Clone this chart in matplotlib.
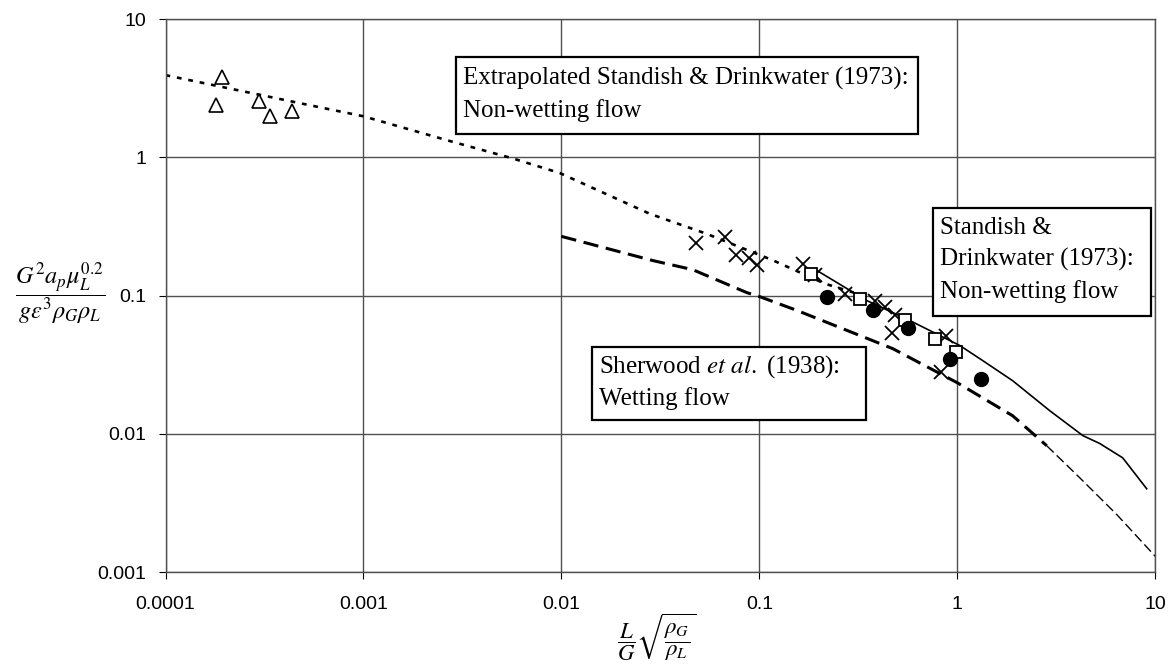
import numpy as np
import matplotlib
matplotlib.use("Agg")
import matplotlib.pyplot as plt
from matplotlib.patches import Rectangle
from matplotlib.ticker import FixedLocator, FixedFormatter, NullLocator

plt.rcParams['font.family'] = ['Liberation Sans', 'DejaVu Sans']
plt.rcParams['mathtext.fontset'] = 'stix'

# data points
tri_x = [0.000193, 0.00018, 0.000297, 0.000337, 0.000435]
tri_y = [3.8, 2.38, 2.55, 1.98, 2.15]

cross_x = [0.0478, 0.067, 0.076, 0.0885, 0.097, 0.166, 0.19, 0.27, 0.383, 0.43, 0.483, 0.467, 0.875, 0.826]
cross_y = [0.238, 0.263, 0.195, 0.188, 0.165, 0.168, 0.14, 0.103, 0.092, 0.082, 0.072, 0.054, 0.051, 0.028]

sq_x = [0.182, 0.322, 0.543, 0.769, 0.99]
sq_y = [0.142, 0.095, 0.066, 0.0488, 0.039]

circ_x = [0.219, 0.374, 0.562, 0.917, 1.315]
circ_y = [0.097, 0.078, 0.0586, 0.0349, 0.0251]

# correlations
extrap_x = [0.0001, 0.00048, 0.001, 0.00274, 0.0057, 0.0098, 0.028, 0.054, 0.117, 0.214, 0.3]
extrap_y = [3.93, 2.46, 1.98, 1.31, 0.98, 0.77, 0.39, 0.28, 0.18, 0.122, 0.105]

stand_x = [0.195, 0.349, 0.575, 1.03, 1.346, 1.905, 2.93, 4.31, 5.25, 6.85, 9.06]
stand_y = [0.152, 0.092, 0.066, 0.0435, 0.0338, 0.0242, 0.0147, 0.0097, 0.0085, 0.0067, 0.004]

sher_x = [0.01, 0.029, 0.046, 0.0865, 0.1, 0.155, 0.472, 1.0, 1.905, 2.83]
sher_y = [0.268, 0.179, 0.154, 0.105, 0.0984, 0.078, 0.0413, 0.0234, 0.0135, 0.0082]

tail_x = [2.83, 4.16, 6.4, 10.0]
tail_y = [0.0082, 0.0048, 0.0026, 0.0013]

ticks_x = [0.0001, 0.001, 0.01, 0.1, 1, 10]
ticks_y = [0.001, 0.01, 0.1, 1, 10]

W, H = 1174, 667
fig = plt.figure(figsize=(W / 100, H / 100), dpi=100)
ax = fig.add_axes([0.141, 0.1424, 0.843, 0.829])
ax.set_xscale('log')
ax.set_yscale('log')
ax.set_xlim(0.0001, 10)
ax.set_ylim(0.001, 10)

ax.xaxis.set_major_locator(FixedLocator(ticks_x))
ax.xaxis.set_major_formatter(FixedFormatter(['0.0001', '0.001', '0.01', '0.1', '1', '10']))
ax.yaxis.set_major_locator(FixedLocator(ticks_y))
ax.yaxis.set_major_formatter(FixedFormatter(['0.001', '0.01', '0.1', '1', '10']))
ax.xaxis.set_minor_locator(NullLocator())
ax.yaxis.set_minor_locator(NullLocator())
ax.tick_params(axis='x', length=5, pad=12, labelsize=14, direction='out')
ax.tick_params(axis='y', length=5, pad=9, labelsize=14, direction='out')
ax.grid(True, color='#505050', linewidth=1.0)
for s in ax.spines.values():
    s.set_color('#505050')
    s.set_linewidth(1.0)

ax.plot(extrap_x, extrap_y, color='black', lw=1.9, dashes=(1.8, 2.6))
ax.plot(sher_x, sher_y, color='black', lw=2.2, dashes=(5, 2.5))
ax.plot(tail_x, tail_y, color='black', lw=1.0, dashes=(7, 3))
ax.plot(stand_x, stand_y, color='black', lw=1.2)

ax.plot(tri_x, tri_y, '^', ms=10, mfc='none', mec='black', mew=1.2, ls='none')
ax.plot(cross_x, cross_y, 'x', ms=10, mec='black', mew=1.3, ls='none')
ax.plot(sq_x, sq_y, 's', ms=9, mfc='white', mec='black', mew=1.3, ls='none')
ax.plot(circ_x, circ_y, 'o', ms=10, mfc='black', mec='black', ls='none')


def label_box(left, top, right, bottom, lines, baseline0, step=32):
    # box and text given in pixel positions of the figure
    fig.add_artist(Rectangle((left / W, 1 - bottom / H), (right - left) / W, (bottom - top) / H,
                             transform=fig.transFigure, fc='white', ec='black', lw=1.6, zorder=5))
    for i, ln in enumerate(lines):
        fig.text((left + 7) / W, 1 - (baseline0 + i * step) / H, ln, family='Liberation Serif',
                 fontsize=18, ha='left', va='baseline', zorder=6)


label_box(456, 57, 918, 134, ['Extrapolated Standish & Drinkwater (1973):', 'Non-wetting flow'], 85)
label_box(933, 208, 1151, 316, ['Standish &', 'Drinkwater (1973):', 'Non-wetting flow'], 234)
label_box(592, 347, 866, 420, ['Sherwood $\\mathit{et\\ al.}$ (1938):', 'Wetting flow'], 373)

ax.text(-0.1066, 0.5045, r'$\dfrac{G^2 a_p \mu_L^{0.2}}{g \varepsilon^3 \rho_G \rho_L}$',
        transform=ax.transAxes, ha='center', va='center', fontsize=17.5)
ax.text(0.496, -0.118, r'$\dfrac{L}{G}\sqrt{\dfrac{\rho_G}{\rho_L}}$',
        transform=ax.transAxes, ha='center', va='center', fontsize=16.5)

fig.savefig('out.png', dpi=100)
